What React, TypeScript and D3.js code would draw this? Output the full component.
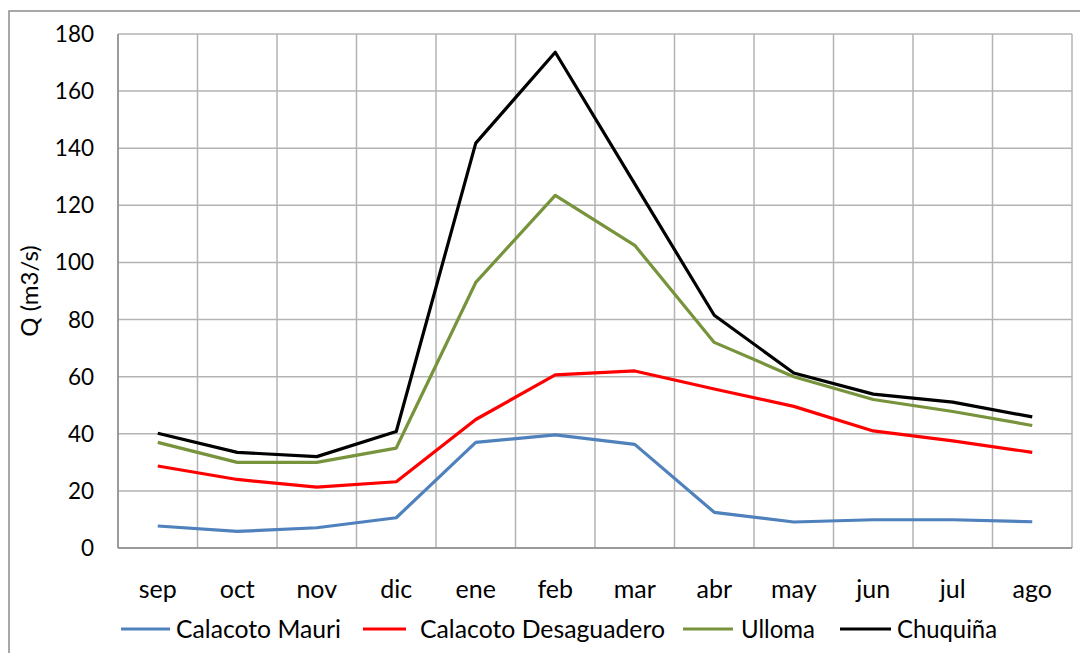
import React from "react";
import * as d3 from "d3";

const months = ["sep", "oct", "nov", "dic", "ene", "feb", "mar", "abr", "may", "jun", "jul", "ago"];
const calacotoMauri = [7.7, 5.8, 7.1, 10.6, 37.0, 39.6, 36.3, 12.5, 9.1, 9.9, 9.9, 9.2];
const calacotoDesaguadero = [28.7, 24.0, 21.3, 23.2, 45.0, 60.6, 62.0, 55.7, 49.6, 41.0, 37.5, 33.5];
const ulloma = [37.0, 30.0, 30.0, 35.0, 93.0, 123.5, 106.0, 72.0, 60.0, 52.0, 47.8, 42.9];
const chuquina = [40.2, 33.5, 32.0, 40.8, 141.8, 173.6, 127.5, 81.5, 61.3, 53.9, 51.1, 45.9];
const yTicks = [0, 20, 40, 60, 80, 100, 120, 140, 160, 180];

const seriesNames = ["Calacoto Mauri", "Calacoto Desaguadero", "Ulloma", "Chuquiña"];
const seriesValues = [calacotoMauri, calacotoDesaguadero, ulloma, chuquina];
const seriesColors = ["#4f81bd", "#ff0000", "#77933c", "#000000"];

// legend layout: line start, line end, text start, text width
const legendLayout = [
  [121, 170, 176, 165],
  [363, 406, 420, 245],
  [683, 733, 741, 74],
  [840, 891, 897, 100],
];

export default function App() {
  const W = 1080, H = 653;
  const left = 118, right = 1072, top = 34, bottom = 548;
  const x = d3.scaleBand<string>().domain(months).range([left, right]);
  const y = d3.scaleLinear().domain([0, 180]).range([bottom, top]);
  const line = d3.line<number>()
    .x((_, i) => (x(months[i]) as number) + x.bandwidth() / 2)
    .y((d) => y(d));
  const font = "Lato, 'Open Sans', sans-serif";
  const grid = "#b3b3b3";
  return (
    <svg width={W} height={H} style={{ position: "absolute", left: 0, top: 0, background: "#fff" }} fontFamily={font}>
      <rect x={9} y={11} width={1100} height={700} fill="#fff" stroke="#8c8c8c" strokeWidth={1.5} />
      {yTicks.map((t) => (
        <line key={"h" + t} x1={left} x2={right} y1={y(t)} y2={y(t)} stroke={grid} strokeWidth={1.5} />
      ))}
      {months.map((m) => (
        <line key={"v" + m} x1={x(m) as number} x2={x(m) as number} y1={top} y2={bottom} stroke={grid} strokeWidth={1.5} />
      ))}
      <line x1={right} x2={right} y1={top} y2={bottom} stroke={grid} strokeWidth={1.5} />
      <line x1={left} x2={left} y1={top} y2={bottom} stroke="#8c8c8c" strokeWidth={1.5} />
      <line x1={left} x2={right} y1={bottom} y2={bottom} stroke="#8c8c8c" strokeWidth={1.5} />
      {yTicks.map((t) => (
        <text key={"yl" + t} x={94} y={y(t) + 8} textAnchor="end" fontSize={22.5} fill="#000">{t}</text>
      ))}
      {months.map((m) => (
        <text key={"xl" + m} x={(x(m) as number) + x.bandwidth() / 2} y={598} textAnchor="middle" fontSize={25} fill="#000">{m}</text>
      ))}
      <text transform="translate(38,291) rotate(-90)" textAnchor="middle" fontSize={24} fill="#000">Q (m3/s)</text>
      {seriesValues.map((vals, si) => (
        <path key={"s" + si} d={line(vals) || ""} fill="none" stroke={seriesColors[si]} strokeWidth={3.2} strokeLinejoin="round" />
      ))}
      {seriesNames.map((n, si) => {
        const [l0, l1, tx, tw] = legendLayout[si];
        return (
          <g key={"lg" + si}>
            <line x1={l0} x2={l1} y1={629} y2={629} stroke={seriesColors[si]} strokeWidth={3.2} />
            <text x={tx} y={637.5} fontSize={25} fill="#000" textLength={tw} lengthAdjust="spacingAndGlyphs">{n}</text>
          </g>
        );
      })}
    </svg>
  );
}
